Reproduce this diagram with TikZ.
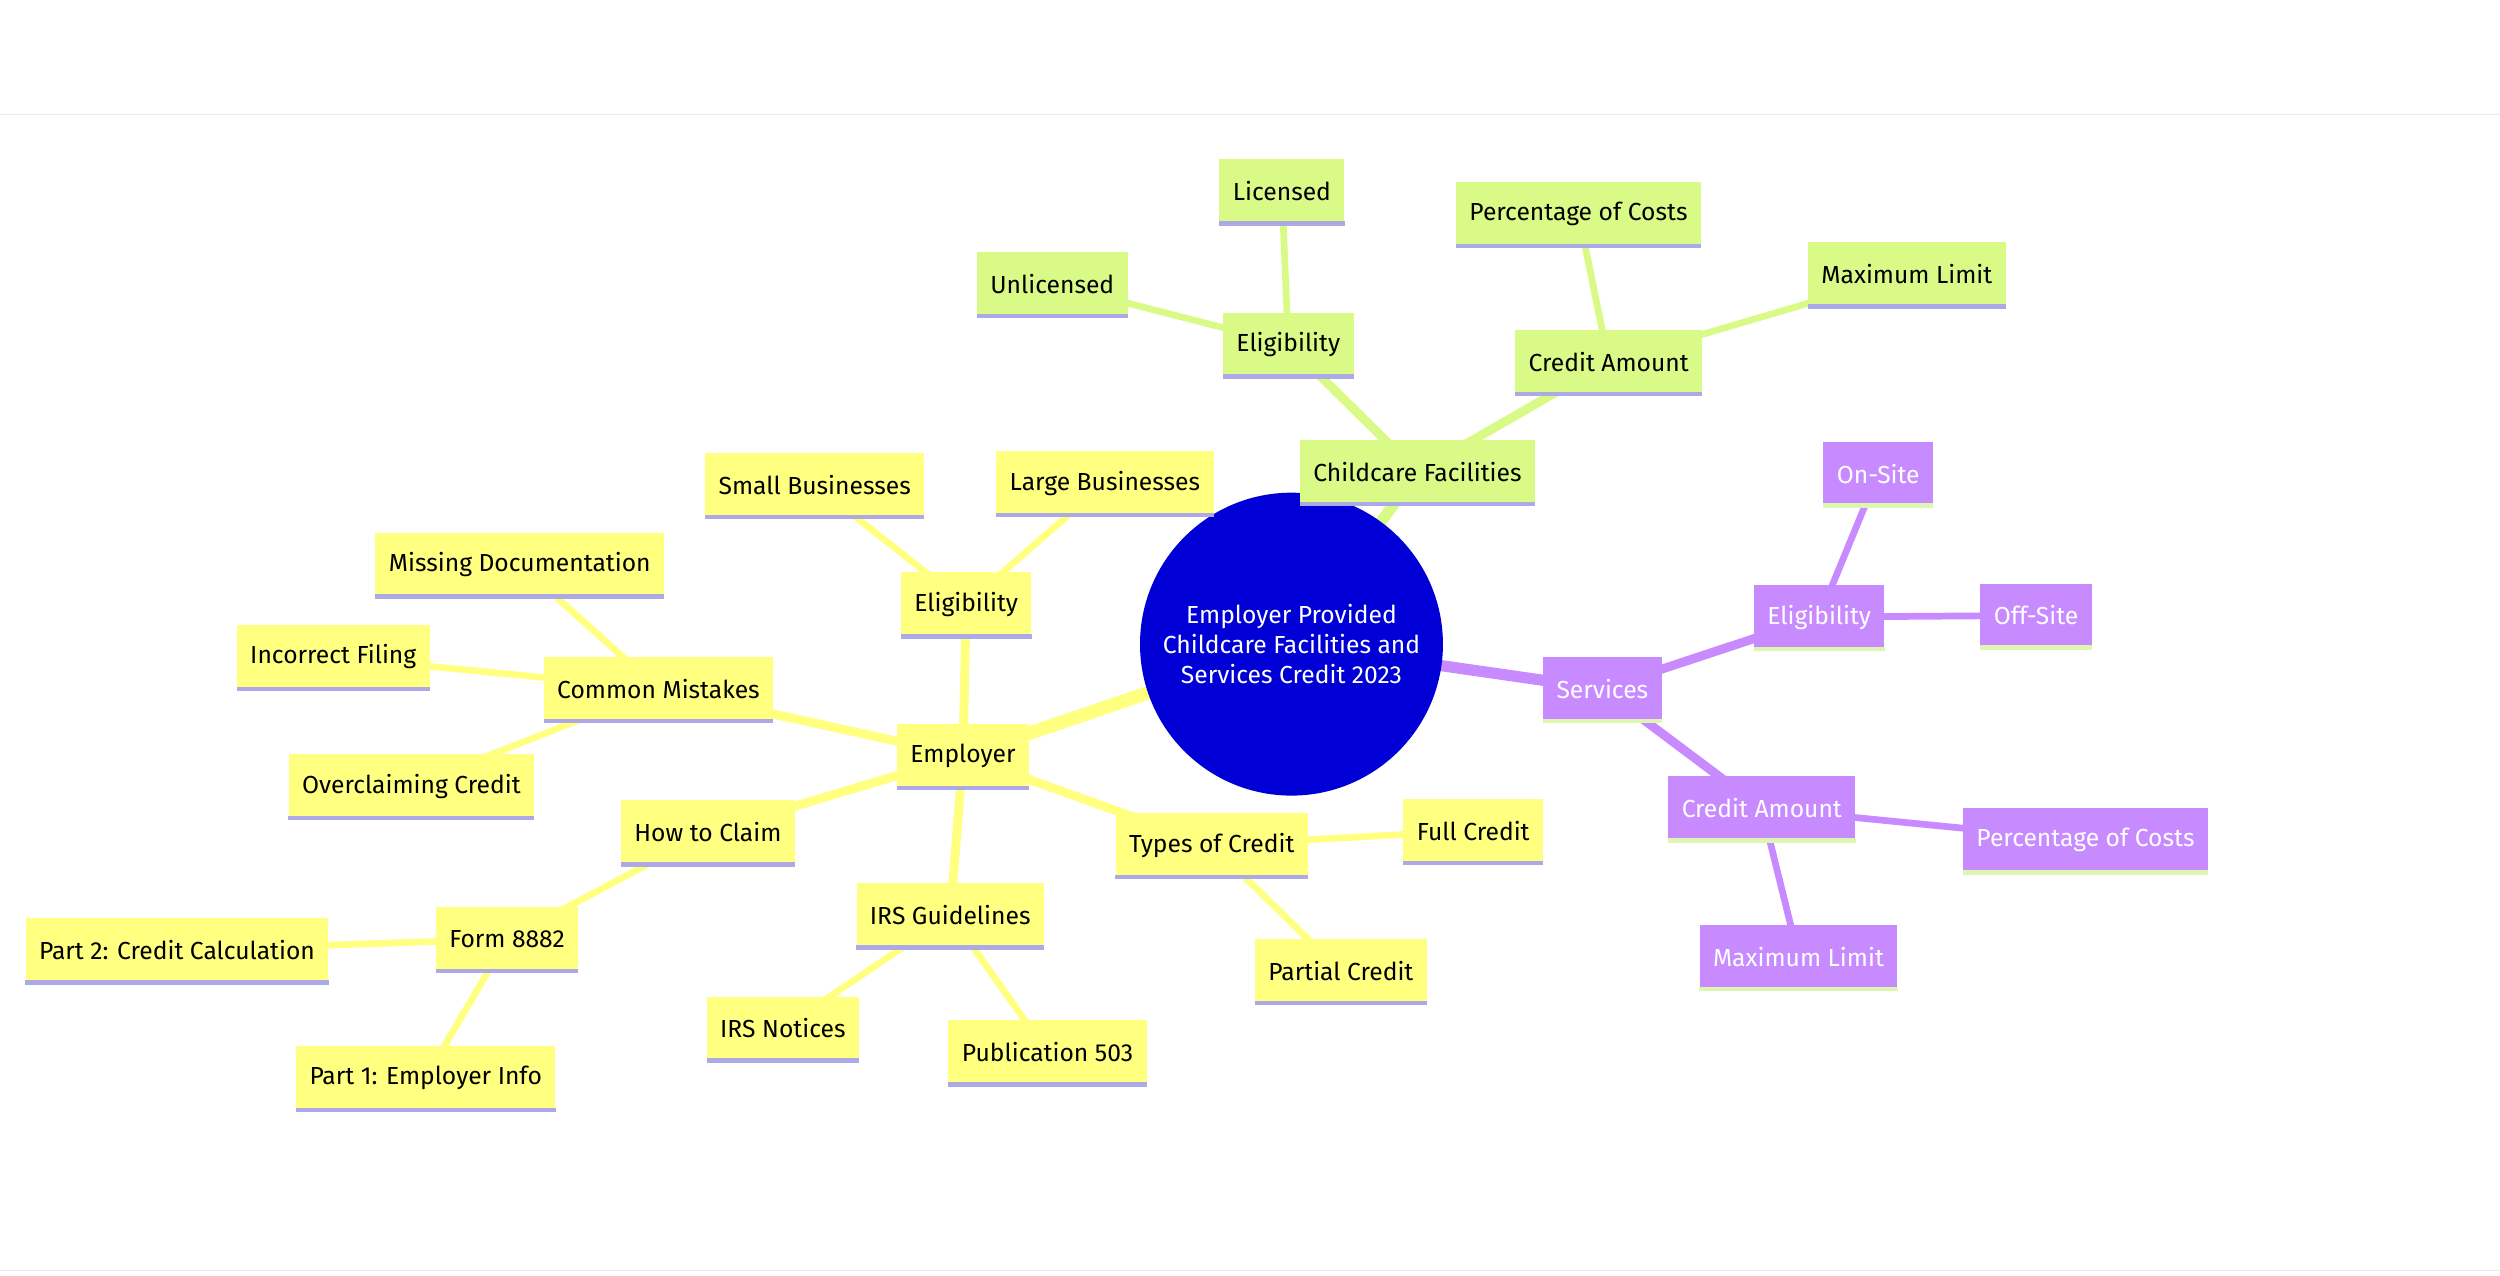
\documentclass[tikz,border=0pt]{standalone}
\usepackage{fontspec}
\setmainfont{Fira Sans}
\usetikzlibrary{backgrounds}
\definecolor{yel}{HTML}{FFFF80}
\definecolor{grn}{HTML}{DAFA88}
\definecolor{pur}{HTML}{C78BFF}
\definecolor{lav}{HTML}{ADA8E6}
\definecolor{lgr}{HTML}{DDF7B0}
\definecolor{rootc}{HTML}{0000D6}
\begin{document}
\begin{tikzpicture}[x=0.05cm,y=-0.05cm,
 box/.style={rectangle,minimum height=40*0.05cm,inner xsep=12pt,font=\fontsize{22}{26}\selectfont},
 Y/.style={box,fill=yel,text=black,append after command={(\tikzlastnode.south west) edge[draw=lav,line width=4pt] (\tikzlastnode.south east)}},
 G/.style={box,fill=grn,text=black,append after command={(\tikzlastnode.south west) edge[draw=lav,line width=4pt] (\tikzlastnode.south east)}},
 P/.style={box,fill=pur,text=white,append after command={(\tikzlastnode.south west) edge[draw=lgr,line width=4pt] (\tikzlastnode.south east)}},
 ey/.style={draw=yel,line width=#1},
 eg/.style={draw=grn,line width=#1},
 ep/.style={draw=pur,line width=#1}]
\useasboundingbox (0,0) rectangle (1568,800);
\draw[black!8,line width=1pt] (0,72) -- (1568,72);
\draw[black!8,line width=1pt] (0,797) -- (1568,797);
\node[circle,fill=rootc,minimum size=190*0.05cm,text=white,align=center,font=\fontsize{22}{27}\selectfont] (root) at (810,404) {Employer Provided\\Childcare Facilities and\\Services Credit 2023};
% green
\node[G] (cf) at (889,296) {Childcare Facilities};
\node[G] (ge) at (808,216) {Eligibility};
\node[G] (gl) at (804,120) {Licensed};
\node[G] (gu) at (660,178) {Unlicensed};
\node[G] (gc) at (1009,227) {Credit Amount};
\node[G] (gp) at (990,134) {Percentage of Costs};
\node[G] (gm) at (1196,172) {Maximum Limit};
% purple
\node[P] (sv) at (1005,432) {Services};
\node[P] (pe) at (1141,387) {Eligibility};
\node[P] (po) at (1178,297) {On-Site};
\node[P] (pf) at (1277,386) {Off-Site};
\node[P] (pc) at (1105,507) {Credit Amount};
\node[P] (pp) at (1308,527) {Percentage of Costs};
\node[P] (pm) at (1128,600) {Maximum Limit};
% yellow
\node[Y] (em) at (604,474) {Employer};
\node[Y] (ye) at (606,379) {Eligibility};
\node[Y] (ys) at (511,304) {Small Businesses};
\node[Y] (yl) at (693,303) {Large Businesses};
\node[Y] (cm) at (413,432) {Common Mistakes};
\node[Y] (md) at (326,354) {Missing Documentation};
\node[Y] (inf) at (209,412) {Incorrect Filing};
\node[Y] (oc) at (258,493) {Overclaiming Credit};
\node[Y] (hc) at (444,522) {How to Claim};
\node[Y] (fm) at (318,589) {Form 8882};
\node[Y] (p2) at (111,596) {Part 2: Credit Calculation};
\node[Y] (p1) at (267,676) {Part 1: Employer Info};
\node[Y] (ig) at (596,574) {IRS Guidelines};
\node[Y] (in) at (491,645) {IRS Notices};
\node[Y] (pb) at (657,660) {Publication 503};
\node[Y] (tc) at (760,530) {Types of Credit};
\node[Y] (fc) at (924,521) {Full Credit};
\node[Y] (pc2) at (841,609) {Partial Credit};
\begin{scope}[on background layer]
\draw[eg=10pt] (root.center) -- (cf.center);
\draw[eg=8pt] (cf.center) -- (ge.center) (cf.center) -- (gc.center);
\draw[eg=6pt] (ge.center) -- (gl.center) (ge.center) -- (gu.center) (gc.center) -- (gp.center) (gc.center) -- (gm.center);
\draw[ep=10pt] (root.center) -- (sv.center);
\draw[ep=8pt] (sv.center) -- (pe.center) (sv.center) -- (pc.center);
\draw[ep=6pt] (pe.center) -- (po.center) (pe.center) -- (pf.center) (pc.center) -- (pp.center) (pc.center) -- (pm.center);
\draw[ey=12pt] (root.center) -- (em.center);
\draw[ey=8pt] (em.center) -- (ye.center) (em.center) -- (cm.center) (em.center) -- (hc.center) (em.center) -- (ig.center) (em.center) -- (tc.center);
\draw[ey=6pt] (ye.center) -- (ys.center) (ye.center) -- (yl.center) (cm.center) -- (md.center) (cm.center) -- (inf.center) (cm.center) -- (oc.center) (hc.center) -- (fm.center) (fm.center) -- (p2.center) (fm.center) -- (p1.center) (ig.center) -- (in.center) (ig.center) -- (pb.center) (tc.center) -- (fc.center) (tc.center) -- (pc2.center);
\end{scope}
\end{tikzpicture}
\end{document}
